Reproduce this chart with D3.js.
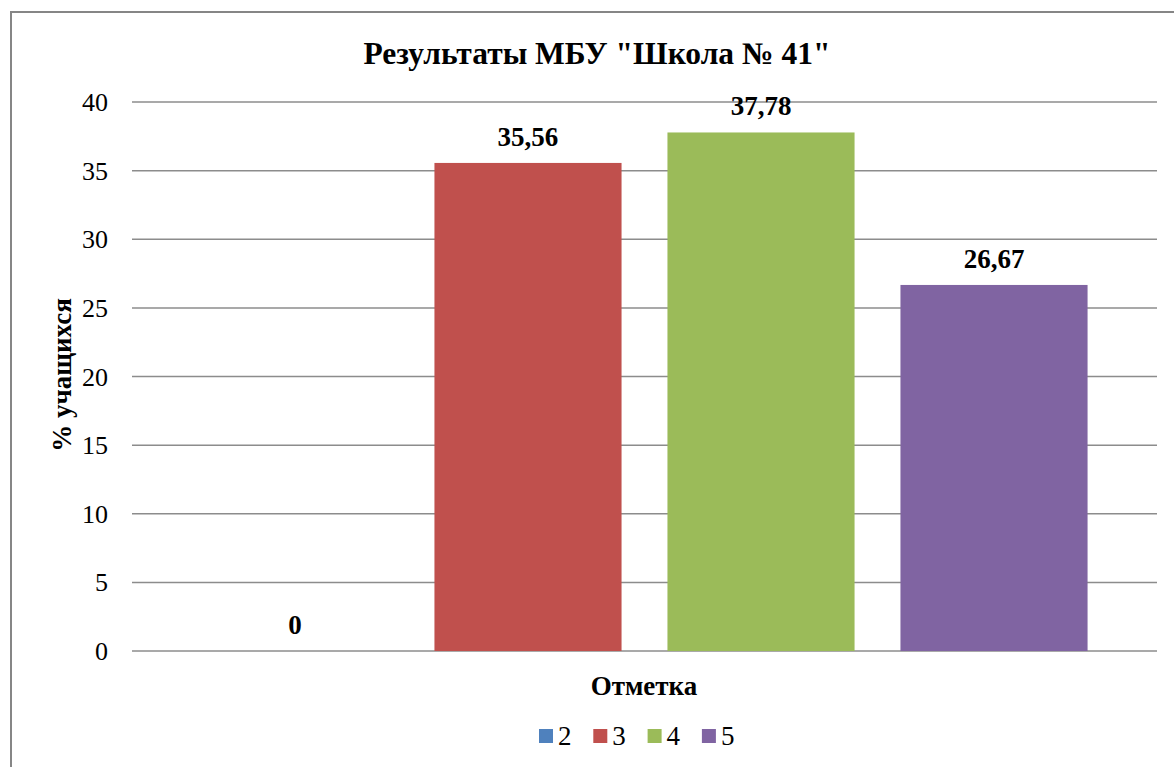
<!DOCTYPE html>
<html>
<head>
<meta charset="utf-8">
<script src="https://cdn.jsdelivr.net/npm/d3@7"></script>
</head>
<body style="margin:0; background:#fff">
<script>
// data
const series = ['2', '3', '4', '5'];
const values = [0, 35.56, 37.78, 26.67];
const colors = ['#4F81BD', '#C0504D', '#9BBB59', '#8064A2'];
const yTicks = [0, 5, 10, 15, 20, 25, 30, 35, 40];

const width = 1174;
const height = 767;
const plot = { left: 132, right: 1157, top: 102, bottom: 651 };
const fontName = "Liberation Serif";

const svg = d3.select("body")
  .append("svg")
  .attr("width", width)
  .attr("height", height)
  .style("display", "block");

// outer frame
svg.append("rect")
  .attr("x", 11).attr("y", 12)
  .attr("width", width + 20).attr("height", height + 20)
  .attr("fill", "#fff")
  .attr("stroke", "#868686")
  .attr("stroke-width", 2);

const y = d3.scaleLinear()
  .domain([0, 40])
  .range([plot.bottom, plot.top]);

const x = d3.scaleBand()
  .domain(series)
  .range([plot.left, plot.right])
  .paddingInner(0.197)
  .paddingOuter(0.298);

// gridlines
svg.append("g")
  .selectAll("line")
  .data(yTicks)
  .enter()
  .append("line")
  .attr("x1", plot.left)
  .attr("x2", plot.right)
  .attr("y1", d => y(d))
  .attr("y2", d => y(d))
  .attr("stroke", "#8c8c8c")
  .attr("stroke-width", 1.5);

// tick labels
svg.append("g")
  .selectAll("text")
  .data(yTicks)
  .enter()
  .append("text")
  .attr("x", 108)
  .attr("y", d => y(d))
  .attr("dy", "0.35em")
  .attr("text-anchor", "end")
  .attr("font-size", 26)
  .attr("fill", "#000")
  .text(d => d);

// bars
svg.append("g")
  .selectAll("rect")
  .data(values)
  .enter()
  .append("rect")
  .attr("x", (d, i) => x(series[i]))
  .attr("width", x.bandwidth())
  .attr("y", d => y(d))
  .attr("height", d => y(0) - y(d))
  .attr("fill", (d, i) => colors[i]);

// value labels
svg.append("g")
  .selectAll("text")
  .data(values)
  .enter()
  .append("text")
  .attr("x", (d, i) => x(series[i]) + x.bandwidth() / 2)
  .attr("y", d => y(d) - 17)
  .attr("text-anchor", "middle")
  .attr("font-size", 27)
  .attr("font-weight", "bold")
  .text(d => String(d).replace(".", ","));

// title
svg.append("text")
  .attr("x", 597)
  .attr("y", 64)
  .attr("text-anchor", "middle")
  .attr("font-size", 31.5)
  .attr("font-weight", "bold")
  .text('Результаты МБУ "Школа № 41"');

// axis titles
svg.append("text")
  .attr("x", 644)
  .attr("y", 695)
  .attr("text-anchor", "middle")
  .attr("font-size", 27)
  .attr("font-weight", "bold")
  .text("Отметка");

svg.append("text")
  .attr("transform", "translate(71, 375) rotate(-90)")
  .attr("text-anchor", "middle")
  .attr("font-size", 27)
  .attr("font-weight", "bold")
  .text("% учащихся");

// legend
const legend = svg.append("g")
  .selectAll("g")
  .data(series)
  .enter()
  .append("g")
  .attr("transform", (d, i) => `translate(${539 + i * 54.3}, 736)`);

legend.append("rect")
  .attr("x", 0).attr("y", -7)
  .attr("width", 14).attr("height", 14)
  .attr("fill", (d, i) => colors[i]);

legend.append("text")
  .attr("x", 19)
  .attr("y", 0)
  .attr("dy", "0.35em")
  .attr("font-size", 27)
  .text(d => d);

// serif font on every label
svg.selectAll("text")
  .attr("font-family", fontName)
  .style("font-family", `'${fontName}', serif`, "important");
</script>
</body>
</html>
